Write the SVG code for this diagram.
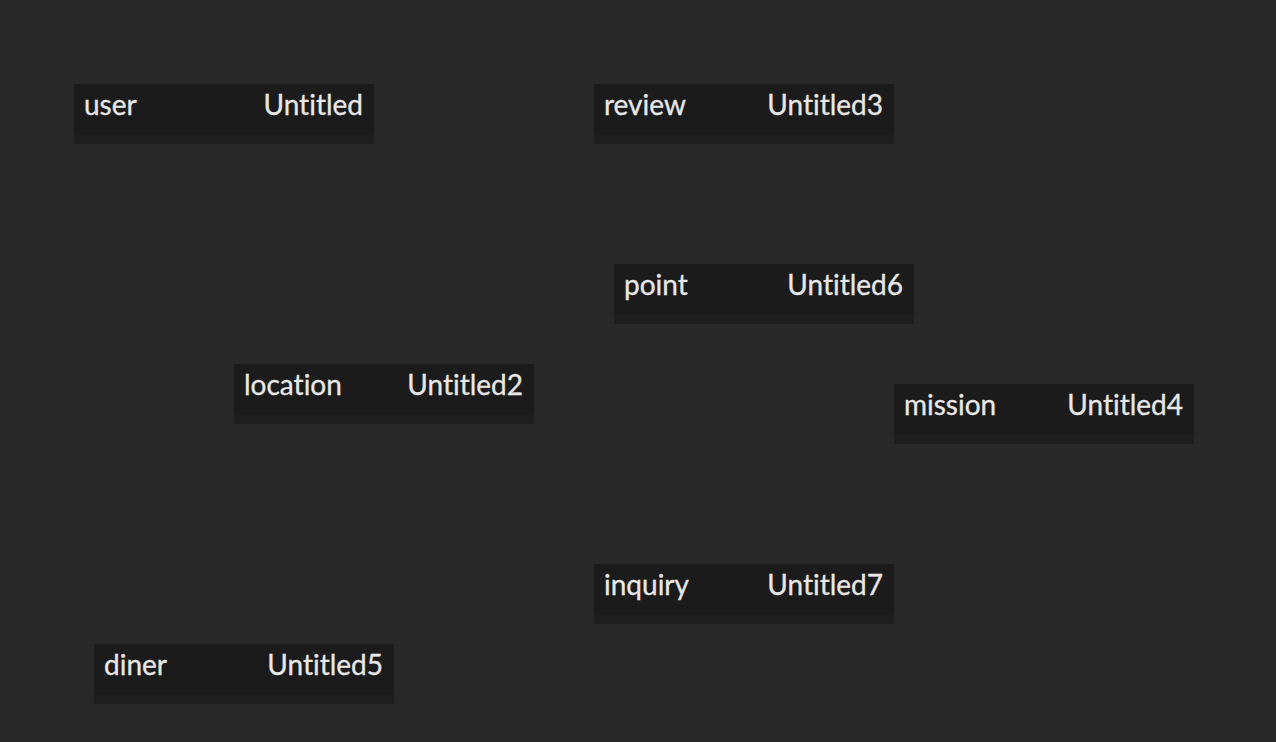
<svg xmlns="http://www.w3.org/2000/svg" width="1276" height="742" viewBox="0 0 1276 742">
<style>
.box{fill:#1b1b1b}
.strip{fill:#1e1e1e}
.t{font-family:Lato,"Noto Sans",sans-serif;font-size:28px;fill:#e8e8e8;stroke:#e8e8e8;stroke-width:0.3;font-variant-ligatures:none;font-feature-settings:"liga" 0}
.r{text-anchor:end}
</style>
<rect width="1276" height="742" fill="#282828"/>
<g id="connectors"></g>
<g id="user" transform="translate(74,84)"><rect class="box" width="300" height="60"/><rect class="strip" y="51" width="300" height="9"/><text class="t" x="10" y="31">user</text><text class="t r" x="289" y="31">Untitled</text></g>
<g id="review" transform="translate(594,84)"><rect class="box" width="300" height="60"/><rect class="strip" y="51" width="300" height="9"/><text class="t" x="10" y="31">review</text><text class="t r" x="289" y="31">Untitled3</text></g>
<g id="point" transform="translate(614,264)"><rect class="box" width="300" height="60"/><rect class="strip" y="51" width="300" height="9"/><text class="t" x="10" y="31">point</text><text class="t r" x="289" y="31">Untitled6</text></g>
<g id="location" transform="translate(234,364)"><rect class="box" width="300" height="60"/><rect class="strip" y="51" width="300" height="9"/><text class="t" x="10" y="31">location</text><text class="t r" x="289" y="31">Untitled2</text></g>
<g id="mission" transform="translate(894,384)"><rect class="box" width="300" height="60"/><rect class="strip" y="51" width="300" height="9"/><text class="t" x="10" y="31">mission</text><text class="t r" x="289" y="31">Untitled4</text></g>
<g id="inquiry" transform="translate(594,564)"><rect class="box" width="300" height="60"/><rect class="strip" y="51" width="300" height="9"/><text class="t" x="10" y="31">inquiry</text><text class="t r" x="289" y="31">Untitled7</text></g>
<g id="diner" transform="translate(94,644)"><rect class="box" width="300" height="60"/><rect class="strip" y="51" width="300" height="9"/><text class="t" x="10" y="31">diner</text><text class="t r" x="289" y="31">Untitled5</text></g>
</svg>
